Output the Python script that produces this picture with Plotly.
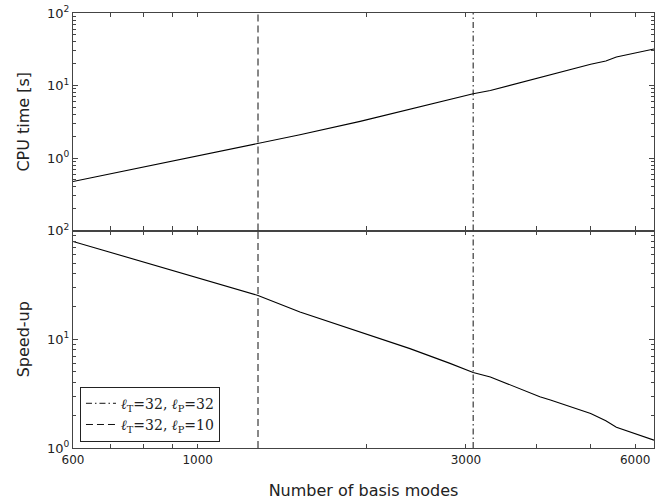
import plotly.graph_objects as go

# Data
n_modes = [600, 773, 1000, 1280, 1520, 1945, 2385, 2810, 3090, 3315, 4060, 4240, 5000, 5320, 5555, 6480]
cpu_time = [0.475, 0.71, 1.06, 1.56, 2.09, 3.2, 4.68, 6.5, 7.7, 8.55, 13.0, 14.1, 19.6, 21.8, 24.7, 31.9]
speed_up = [79.3, 54, 37, 25.3, 17.8, 11.7, 8.2, 6.0, 4.95, 4.5, 2.96, 2.76, 2.08, 1.78, 1.55, 1.18]

marker_32_32 = 3090   # l_T=32, l_P=32
marker_32_10 = 1280   # l_T=32, l_P=10

x_tickvals = [600, 700, 800, 900, 1000, 2000, 3000, 4000, 5000, 6000]
x_ticktext = ["600", "", "", "", "1000", "", "3000", "", "", "6000"]

top_major = [0.1, 1, 10, 100]
top_text = ["", "10<sup>0</sup>", "10<sup>1</sup>", "10<sup>2</sup>"]
bot_major = [1, 10, 100]
bot_text = ["10<sup>0</sup>", "10<sup>1</sup>", "10<sup>2</sup>"]

def minors(decades):
    out = []
    for d in decades:
        for k in range(2, 10):
            out.append(k * d)
    return out

fig = go.Figure()

AX = "#444444"
font_main = "DejaVu Sans"

# Curves
fig.add_trace(go.Scatter(x=n_modes, y=cpu_time, mode="lines", line=dict(color="black", width=1.1),
                         xaxis="x2", yaxis="y2", showlegend=False))
fig.add_trace(go.Scatter(x=n_modes, y=speed_up, mode="lines", line=dict(color="black", width=1.1),
                         xaxis="x", yaxis="y", showlegend=False))

dashdot = "6px,3px,1.5px,3px"
dashed = "7px,4px"
label_3232 = "<i>ℓ</i><sub>T</sub>=32, <i>ℓ</i><sub>P</sub>=32"
label_3210 = "<i>ℓ</i><sub>T</sub>=32, <i>ℓ</i><sub>P</sub>=10"
VL = "#111111"

# Vertical lines in bottom panel (with legend)
fig.add_trace(go.Scatter(x=[marker_32_32, marker_32_32], y=[1, 100], mode="lines",
                         line=dict(color=VL, width=1, dash=dashdot),
                         xaxis="x", yaxis="y", name=label_3232))
fig.add_trace(go.Scatter(x=[marker_32_10, marker_32_10], y=[1, 100], mode="lines",
                         line=dict(color=VL, width=1, dash=dashed),
                         xaxis="x", yaxis="y", name=label_3210))
# Vertical lines in top panel
fig.add_trace(go.Scatter(x=[marker_32_32, marker_32_32], y=[0.1, 100], mode="lines",
                         line=dict(color=VL, width=1, dash=dashdot),
                         xaxis="x2", yaxis="y2", showlegend=False))
fig.add_trace(go.Scatter(x=[marker_32_10, marker_32_10], y=[0.1, 100], mode="lines",
                         line=dict(color=VL, width=1, dash=dashed),
                         xaxis="x2", yaxis="y2", showlegend=False))

xcommon = dict(type="log", range=[2.77815, 3.8116], showgrid=False, zeroline=False,
               showline=True, linecolor=AX, linewidth=1.3, mirror="ticks", automargin=False,
               ticks="inside", ticklen=4, tickcolor=AX, tickwidth=1,
               tickvals=x_tickvals, ticktext=x_ticktext,
               tickfont=dict(family=font_main, size=12, color="#222222"))

ycommon = dict(type="log", showgrid=False, zeroline=False, automargin=False,
               showline=True, linecolor=AX, linewidth=1.3, mirror="ticks",
               ticks="inside", ticklen=5, tickcolor=AX, tickwidth=1,
               tickfont=dict(family=font_main, size=13, color="#222222"))

fig.update_layout(
    width=668, height=500,
    margin=dict(l=73, r=14, t=13, b=52),
    paper_bgcolor="white", plot_bgcolor="white",
    font=dict(family=font_main, color="#222222"),
    xaxis=dict(**xcommon, anchor="y", domain=[0, 1],
               title=dict(text="Number of basis modes", font=dict(size=16, family=font_main), standoff=20)),
    xaxis2=dict(**xcommon, anchor="y2", matches="x", showticklabels=False),
    yaxis=dict(**ycommon, domain=[0, 0.5], range=[0, 2], anchor="x",
               tickvals=bot_major, ticktext=bot_text,
               minor=dict(tickvals=minors([1, 10]), ticks="inside", ticklen=3, tickcolor=AX),
               title=dict(text="Speed-up", font=dict(size=16, family=font_main), standoff=13)),
    yaxis2=dict(**ycommon, domain=[0.5, 1], range=[-1, 2], anchor="x2",
                tickvals=top_major, ticktext=top_text,
                minor=dict(tickvals=minors([0.1, 1, 10]), ticks="inside", ticklen=3, tickcolor=AX),
                title=dict(text="CPU time [s]", font=dict(size=16, family=font_main), standoff=13)),
    legend=dict(x=0.012, y=0.0145, xanchor="left", yanchor="bottom",
                bgcolor="white", bordercolor="#222222", borderwidth=1,
                font=dict(family="DejaVu Serif", size=14, color="#222222"),
                tracegroupgap=0, itemwidth=30),
)

fig.write_html("out.html", post_script="document.body.style.margin='0';",
               config={"displayModeBar": False})
